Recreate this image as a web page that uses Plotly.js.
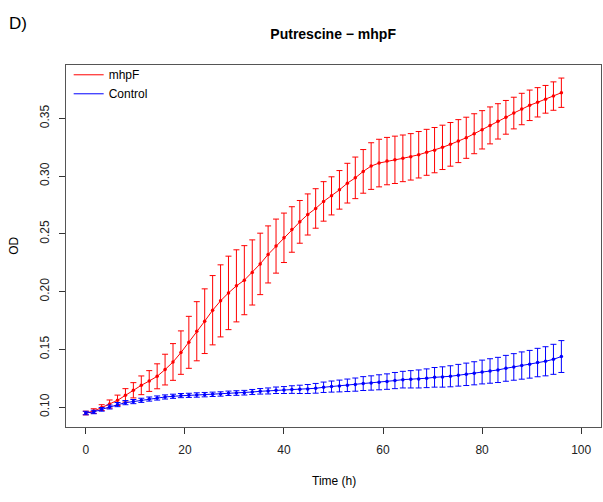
<!DOCTYPE html>
<html>
<head>
<meta charset="utf-8">
<script src="https://cdn.plot.ly/plotly-3.0.1.min.js"></script>
<style>
html,body{margin:0;padding:0;background:#fff;}
#chart{width:603px;height:502px;}
</style>
</head>
<body>
<div id="chart"></div>
<script>
var time = [0,1.6,3.2,4.8,6.4,8,9.6,11.2,12.8,14.4,16,17.6,19.2,20.8,22.4,24,25.6,27.2,28.8,30.4,32,33.6,35.2,36.8,38.4,40,41.6,43.2,44.8,46.4,48,49.6,51.2,52.8,54.4,56,57.6,59.2,60.8,62.4,64,65.6,67.2,68.8,70.4,72,73.6,75.2,76.8,78.4,80,81.6,83.2,84.8,86.4,88,89.6,91.2,92.8,94.4,96];

var mhpfMean = [0.0948,0.0965,0.0995,0.1026,0.1058,0.1101,0.1145,0.1188,0.1225,0.1266,
  0.1324,0.139,0.1471,0.156,0.1656,0.1743,0.1838,0.1919,0.1988,0.2049,
  0.2098,0.2165,0.2239,0.2321,0.2393,0.2465,0.2537,0.2603,0.2667,0.2719,
  0.278,0.2828,0.288,0.2938,0.2984,0.304,0.3086,0.3112,0.3129,0.314,
  0.3153,0.3166,0.3184,0.3205,0.3224,0.3248,0.3274,0.3302,0.3331,0.3366,
  0.34,0.3438,0.3473,0.3508,0.3545,0.358,0.3612,0.3638,0.3664,0.3692,
  0.3721];

var mhpfErr = [0.0016,0.002,0.0025,0.0035,0.0045,0.0058,0.0066,0.0081,0.009,0.0108,
  0.0133,0.0159,0.0188,0.0225,0.0256,0.028,0.030,0.0312,0.0318,0.0312,
  0.0299,0.0282,0.0266,0.0247,0.0234,0.0214,0.0197,0.0185,0.0178,0.0171,
  0.0171,0.0165,0.0167,0.0172,0.018,0.0189,0.0202,0.0206,0.0205,0.0205,
  0.0202,0.0201,0.0201,0.0199,0.0196,0.0192,0.0189,0.0186,0.0178,0.0173,
  0.0166,0.016,0.0153,0.0146,0.0137,0.0136,0.0132,0.0127,0.012,0.0123,
  0.0127];

var controlMean = [0.0948,0.0957,0.098,0.1,0.1021,0.1038,0.1047,0.1058,0.1069,0.1078,
  0.1087,0.1093,0.1099,0.1101,0.1104,0.1107,0.111,0.1113,0.1119,0.1121,
  0.1124,0.113,0.1136,0.1139,0.1145,0.1147,0.1151,0.1153,0.1156,0.1162,
  0.1171,0.1177,0.1182,0.1188,0.1194,0.1203,0.1208,0.1214,0.122,0.1229,
  0.1237,0.124,0.1243,0.1249,0.1257,0.126,0.1266,0.1275,0.1283,0.1292,
  0.1303,0.1312,0.1321,0.1335,0.1347,0.1359,0.137,0.1385,0.1396,0.1413,
  0.1437];

var controlErr = [0.0015,0.0015,0.0016,0.0017,0.0018,0.0018,0.0018,0.0018,0.0018,0.0018,
  0.0018,0.0018,0.0018,0.0018,0.0019,0.0019,0.0019,0.0019,0.0019,0.002,
  0.002,0.0022,0.0024,0.0026,0.0028,0.003,0.0033,0.0036,0.0039,0.0042,
  0.0045,0.0048,0.0051,0.0054,0.0057,0.006,0.0062,0.0065,0.0067,0.007,
  0.0072,0.0075,0.0078,0.0081,0.0085,0.0088,0.0091,0.0094,0.0097,0.01,
  0.0103,0.0106,0.0109,0.0112,0.0115,0.0118,0.012,0.0123,0.0126,0.013,
  0.0138];

var xTicks = [0,20,40,60,80,100];
var yTicks = [0.10,0.15,0.20,0.25,0.30,0.35];
var yTickLabels = ["0.10","0.15","0.20","0.25","0.30","0.35"];
var seriesNames = ["mhpF","Control"];
var seriesColors = ["#ff0000","#0000ff"];

var FONT = "Liberation Sans, Arial, Helvetica, sans-serif";

function dataTrace(y, err, color){
  return {
    x: time, y: y, type: "scatter", mode: "lines+markers", showlegend: false,
    line: {color: color, width: 1},
    marker: {color: color, size: 3.5, symbol: "circle"},
    error_y: {type: "data", array: err, visible: true, color: color, thickness: 1, width: 3}
  };
}
function legendTrace(name, color){
  return {x:[null], y:[null], type:"scatter", mode:"lines", name:name,
          line:{color:color, width:1}, showlegend:true, hoverinfo:"skip"};
}

var traces = [
  dataTrace(mhpfMean, mhpfErr, seriesColors[0]),
  dataTrace(controlMean, controlErr, seriesColors[1]),
  legendTrace(seriesNames[0], seriesColors[0]),
  legendTrace(seriesNames[1], seriesColors[1])
];

var layout = {
  width: 603, height: 502,
  margin: {l: 66, r: 2, t: 65, b: 75, pad: 0},
  paper_bgcolor: "#fff", plot_bgcolor: "#fff",
  font: {family: FONT, size: 12, color: "#000"},
  title: {text: "<b>Putrescine \u2212 mhpF</b>", font: {family: FONT, size: 14, color: "#000"},
          x: 0.5525, xanchor: "center", y: 0.932, yanchor: "middle"},
  showlegend: true,
  legend: {x: 0.005, y: 1.013, xanchor: "left", yanchor: "top", bgcolor: "rgba(0,0,0,0)",
           borderwidth: 0, font: {family: FONT, size: 12, color: "#000"}, tracegroupgap: 0},
  xaxis: {
    range: [-4, 104], tickmode: "array", tickvals: xTicks, ticktext: xTicks.map(String),
    ticks: "outside", ticklen: 6, tickwidth: 1, tickcolor: "#333", ticklabelstandoff: 6,
    showline: true, mirror: true, linecolor: "#555", linewidth: 1,
    showgrid: false, zeroline: false,
    tickfont: {family: FONT, size: 12, color: "#222"}
  },
  yaxis: {
    range: [0.0827, 0.3961], tickmode: "array", tickvals: yTicks, ticktext: yTickLabels,
    ticks: "outside", ticklen: 6, tickwidth: 1, tickcolor: "#333", tickangle: -90, ticklabelstandoff: 5,
    showline: true, mirror: true, linecolor: "#555", linewidth: 1,
    showgrid: false, zeroline: false,
    tickfont: {family: FONT, size: 12, color: "#222"}
  },
  annotations: [
    {text: "D)", xref: "paper", yref: "paper", x: -0.11, y: 1.115, xanchor: "left", yanchor: "middle",
     showarrow: false, font: {family: FONT, size: 17, color: "#000"}},
    {text: "Time (h)", xref: "paper", yref: "paper", x: 0.5, y: -0.149, xanchor: "center", yanchor: "middle",
     showarrow: false, font: {family: FONT, size: 12, color: "#000"}},
    {text: "OD", xref: "paper", yref: "paper", x: -0.0976, y: 0.5, xanchor: "center", yanchor: "middle",
     textangle: -90, showarrow: false, font: {family: FONT, size: 12, color: "#000"}}
  ]
};

Plotly.newPlot("chart", traces, layout, {displayModeBar: false, staticPlot: true});
</script>
</body>
</html>
